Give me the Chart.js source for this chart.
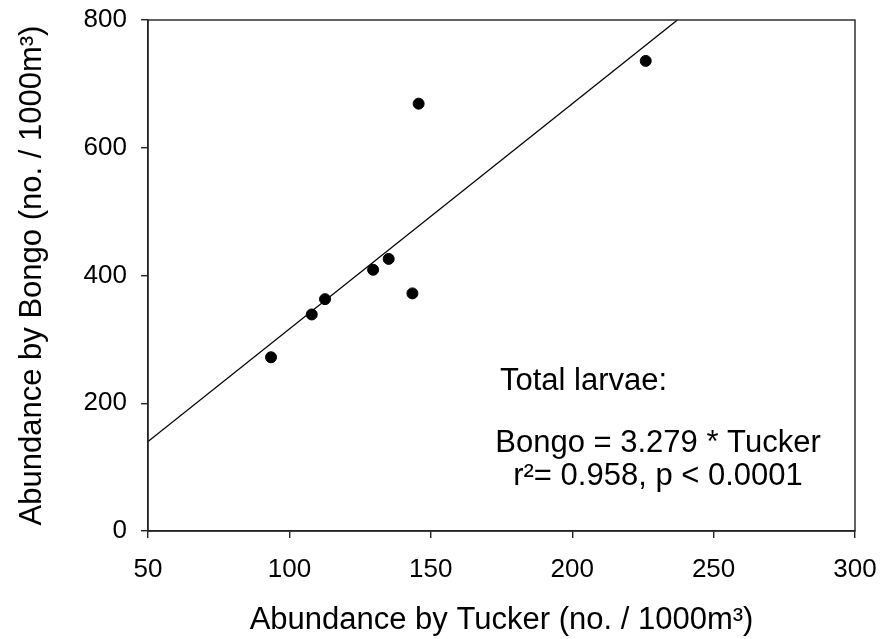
<!DOCTYPE html>
<html>
<head>
<meta charset="utf-8">
<script src="https://cdn.jsdelivr.net/npm/chart.js@4"></script>
<style>
  html, body { margin: 0; padding: 0; background: #fff; }
  #wrap { width: 883px; height: 639px; }
</style>
</head>
<body>
<div id="wrap"><canvas id="chart" width="883" height="639"></canvas></div>
<script>
// data
const tucker = [93.5, 107.9, 112.6, 129.6, 135.1, 143.5, 145.7, 226];
const bongo = [272, 339, 363, 409, 426, 372, 669, 736];

// fitted line endpoints (as drawn)
const fitX = [50, 237.2];
const fitY = [140, 800];

const xTicks = [50, 100, 150, 200, 250, 300];
const yTicks = [0, 200, 400, 600, 800];

const noteLines = ['Total larvae:', 'Bongo = 3.279 * Tucker', 'r\u00b2= 0.958, p < 0.0001'];

const FONT = "Arial, 'Liberation Sans', sans-serif";

// box around the plot + annotation text
const boxAndNotes = {
    id: 'boxAndNotes',
    afterDraw(chart) {
        const ctx = chart.ctx;
        const a = chart.chartArea;
        ctx.save();
        ctx.strokeStyle = '#222';
        ctx.lineWidth = 1.4;
        ctx.strokeRect(a.left, a.top, a.right - a.left, a.bottom - a.top);

        ctx.fillStyle = '#000';
        ctx.font = '31px ' + FONT;
        ctx.textBaseline = 'alphabetic';
        ctx.textAlign = 'left';
        ctx.fillText(noteLines[0], 500, 390);
        ctx.textAlign = 'center';
        ctx.fillText(noteLines[1], 658, 452);
        ctx.fillText(noteLines[2], 658, 485);
        ctx.restore();
    }
};

const points = tucker.map((x, i) => ({x: x, y: bongo[i]}));
const fit = fitX.map((x, i) => ({x: x, y: fitY[i]}));

new Chart(document.getElementById('chart'), {
    type: 'scatter',
    data: {
        datasets: [
            {
                label: 'Total larvae',
                data: points,
                backgroundColor: '#000',
                borderColor: '#000',
                pointRadius: 5.5,
                pointHoverRadius: 5.5
            },
            {
                type: 'line',
                label: 'Fit',
                data: fit,
                borderColor: '#000',
                borderWidth: 1.3,
                pointRadius: 0,
                fill: false,
                tension: 0
            }
        ]
    },
    options: {
        responsive: false,
        animation: false,
        devicePixelRatio: 1,
        layout: { padding: { top: 20, right: 28, left: 0, bottom: 0 } },
        plugins: {
            legend: { display: false },
            tooltip: { enabled: false }
        },
        scales: {
            x: {
                type: 'linear',
                min: 50,
                max: 300,
                afterBuildTicks: s => { s.ticks = xTicks.map(v => ({value: v})); },
                afterFit: s => { s.height = 108; s.paddingLeft = 0; s.paddingRight = 0; },
                grid: { display: true, drawOnChartArea: false, drawTicks: true, tickLength: 7, color: '#222', lineWidth: 1.4 },
                border: { display: true, color: '#222', width: 1.4 },
                ticks: { color: '#000', font: { family: FONT, size: 26 }, padding: 16 },
                title: {
                    display: true,
                    text: 'Abundance by Tucker (no. / 1000m\u00b3)',
                    color: '#000',
                    font: { family: FONT, size: 31 },
                    padding: { top: 6, bottom: 0 }
                }
            },
            y: {
                type: 'linear',
                min: 0,
                max: 800,
                afterBuildTicks: s => { s.ticks = yTicks.map(v => ({value: v})); },
                afterFit: s => { s.width = 148; s.paddingTop = 0; s.paddingBottom = 0; },
                grid: { display: true, drawOnChartArea: false, drawTicks: true, tickLength: 7, color: '#222', lineWidth: 1.4 },
                border: { display: true, color: '#222', width: 1.4 },
                ticks: { color: '#000', font: { family: FONT, size: 26 }, padding: 14 },
                title: {
                    display: true,
                    text: 'Abundance by Bongo (no. / 1000m\u00b3)',
                    color: '#000',
                    font: { family: FONT, size: 31 },
                    padding: { top: 14, bottom: 0 }
                }
            }
        }
    },
    plugins: [boxAndNotes]
});
</script>
</body>
</html>
